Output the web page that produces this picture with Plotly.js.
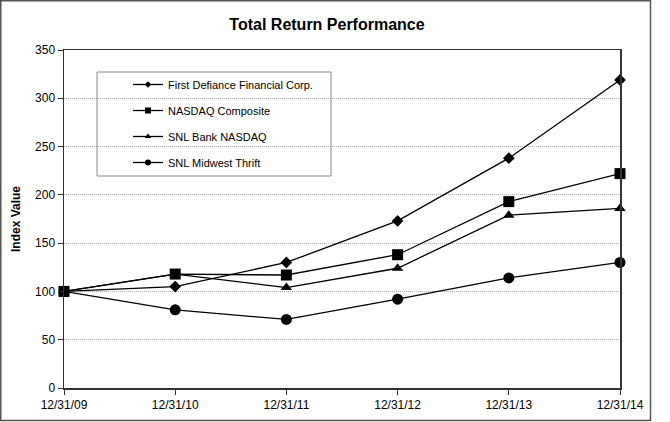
<!DOCTYPE html>
<html><head><meta charset="utf-8">
<script src="https://cdn.plot.ly/plotly-3.0.1.min.js"></script>
<style>body{margin:0;background:#fff}#chart{width:670px;height:422px}</style>
</head><body><div id="chart"></div>
<script>
const dates = ["12/31/09","12/31/10","12/31/11","12/31/12","12/31/13","12/31/14"];
const firstDefiance = [100, 105, 130, 173, 238, 319];
const nasdaqComposite = [100, 118, 117, 138, 193, 222];
const snlBankNasdaq = [100, 118, 104, 124, 179, 186];
const snlMidwestThrift = [100, 81, 71, 92, 114, 130];
const seriesNames = ["First Defiance Financial Corp.","NASDAQ Composite","SNL Bank NASDAQ","SNL Midwest Thrift"];
const yTicks = [0,50,100,150,200,250,300,350];

const symbols = ["diamond","square","triangle-up","circle"];
const sizes = [9,11,10,11];
const legendSizes = [5,6,6,6];
const series = [firstDefiance, nasdaqComposite, snlBankNasdaq, snlMidwestThrift];
const data = series.map((v,i)=>({
  x: dates, y: v, type:'scatter', mode:'lines+markers', name: seriesNames[i],
  showlegend:false,
  line:{color:'#000', width:1.3},
  marker:{symbol:symbols[i], size:sizes[i], color:'#000'},
  cliponaxis:false
}));
// legend entries with small markers like the original
seriesNames.forEach((n,i)=>data.push({
  x:[null], y:[null], type:'scatter', mode:'lines+markers', name:n, legendgroup:'g'+i,
  line:{color:'#000', width:1.3}, marker:{symbol:symbols[i], size:legendSizes[i], color:'#000'}
}));

const L=64, R=620, T=50, B=388, W=670, H=422;
const px = x => (x-L)/(R-L);
const py = y => (B-y)/(B-T);

const layout = {
  width:W, height:H,
  margin:{l:L, r:W-R, t:T, b:H-B},
  paper_bgcolor:'#fff', plot_bgcolor:'#fff',
  font:{family:'"Liberation Sans", Arial, sans-serif', color:'#000', size:12},
  title:{text:'<b>Total Return Performance</b>', font:{size:16}, x:327/W, xanchor:'center', y:1-24/H, yanchor:'middle'},
  showlegend:true,
  legend:{x:px(128), y:py(70), xanchor:'left', yanchor:'top', bgcolor:'rgba(0,0,0,0)', borderwidth:0,
    font:{size:11}, tracegroupgap:7, itemwidth:30},
  xaxis:{type:'category', range:[0,5], showline:true, linecolor:'#333', linewidth:1.5, mirror:true,
    ticks:'outside', ticklen:5, tickcolor:'#333', showgrid:false, zeroline:false, tickfont:{size:12}},
  yaxis:{range:[0,350], tickvals:yTicks, showline:true, linecolor:'#333', linewidth:1.5, mirror:true,
    ticks:'outside', ticklen:5, tickcolor:'#333', showgrid:true, gridcolor:'#aaa', griddash:'1px,1px', gridwidth:1,
    zeroline:false, tickfont:{size:12},
    title:{text:'<b>Index Value</b>', font:{size:12}, standoff:12}},
  shapes:[
    {type:'rect', xref:'paper', yref:'paper', x0:px(97), x1:px(331), y0:py(176), y1:py(72), line:{color:'#888', width:1}, fillcolor:'rgba(0,0,0,0)'},
    {type:'rect', xref:'paper', yref:'paper', x0:px(0.75), x1:px(650.5), y0:py(420.5), y1:py(0.75), line:{color:'#555', width:1.5}, fillcolor:'rgba(0,0,0,0)'}
  ]
};
Plotly.newPlot('chart', data, layout, {displayModeBar:false, staticPlot:true});
</script>
</body></html>
